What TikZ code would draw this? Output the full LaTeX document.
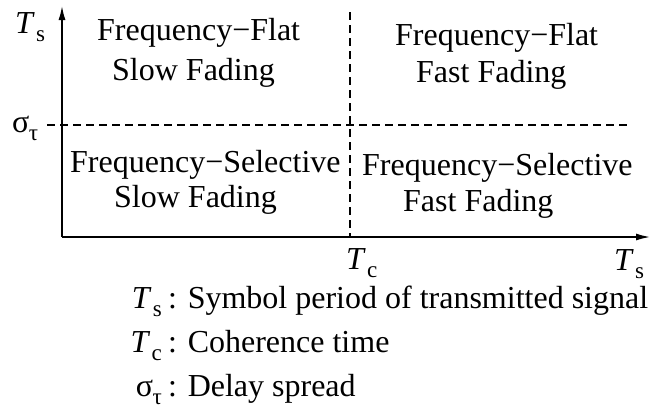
\documentclass[tikz,border=0pt]{standalone}
\usepackage{fontspec}
\setmainfont{Liberation Serif}
\usetikzlibrary{arrows.meta}
% upright, lowered subscript used by the axis symbols
\newcommand{\lowsub}[1]{\raisebox{-0.28em}{\scalebox{0.72}{#1}}}
\newcommand{\symT}[1]{\textit{T}\kern0.04em\lowsub{#1}}
\newcommand{\symsig}{σ\kern-0.02em\lowsub{τ}}

\begin{document}
\begin{tikzpicture}[x=1pt,y=-1pt,
  txt/.style={inner sep=0pt, anchor=base west, font=\fontsize{32}{38}\selectfont},
  txtr/.style={txt, anchor=base east},
  axis/.style={line width=2.2pt, -{Latex[length=15pt,width=7pt]}},
  divider/.style={line width=1.4pt, dash pattern=on 8pt off 5pt}]
\useasboundingbox (0,0) rectangle (658,410);

% axes and the two thresholds
\coordinate (O) at (62,237);
\coordinate (ytip) at (62,5);
\coordinate (xtip) at (651,237);
\coordinate (vtop) at (350,12);
\coordinate (vbot) at (350,237);
\coordinate (hl) at (47,125);
\coordinate (hr) at (628,125);
\draw[divider] (vtop) -- (vbot);
\draw[divider] (hl) -- (hr);
\draw[axis] (O) -- (ytip);
\draw[axis] (O) -- (xtip);

% axis labels
\node[txt] (ylab) at (15,33) {\symT{s}};
\node[txt] (sig) at (12,132) {\symsig};
\node[txt] (tc) at (346,269) {\symT{c}};
\node[txt] (xlab) at (614,270) {\symT{s}};

% the four regions
\node[txt] (tl1) at (97,40) {Frequency−Flat};
\node[txt] (tl2) at (112,80) {Slow Fading};
\node[txt] (tr1) at (395,45) {Frequency−Flat};
\node[txt] (tr2) at (416,82) {Fast Fading};
\node[txt] (bl1) at (70,172) {Frequency−Selective};
\node[txt] (bl2) at (114,207) {Slow Fading};
\node[txt] (br1) at (362,175) {Frequency−Selective};
\node[txt] (br2) at (403,211) {Fast Fading};

% legend
\node[txtr] (k1) at (162,308) {\symT{s}};
\node[txt] (d1) at (168,308) {: Symbol period of transmitted signal};
\node[txtr] (k2) at (162,352) {\symT{c}};
\node[txt] (d2) at (168,352) {: Coherence time};
\node[txtr] (k3) at (162,396) {\symsig};
\node[txt] (d3) at (168,396) {: Delay spread};
\end{tikzpicture}
\end{document}
